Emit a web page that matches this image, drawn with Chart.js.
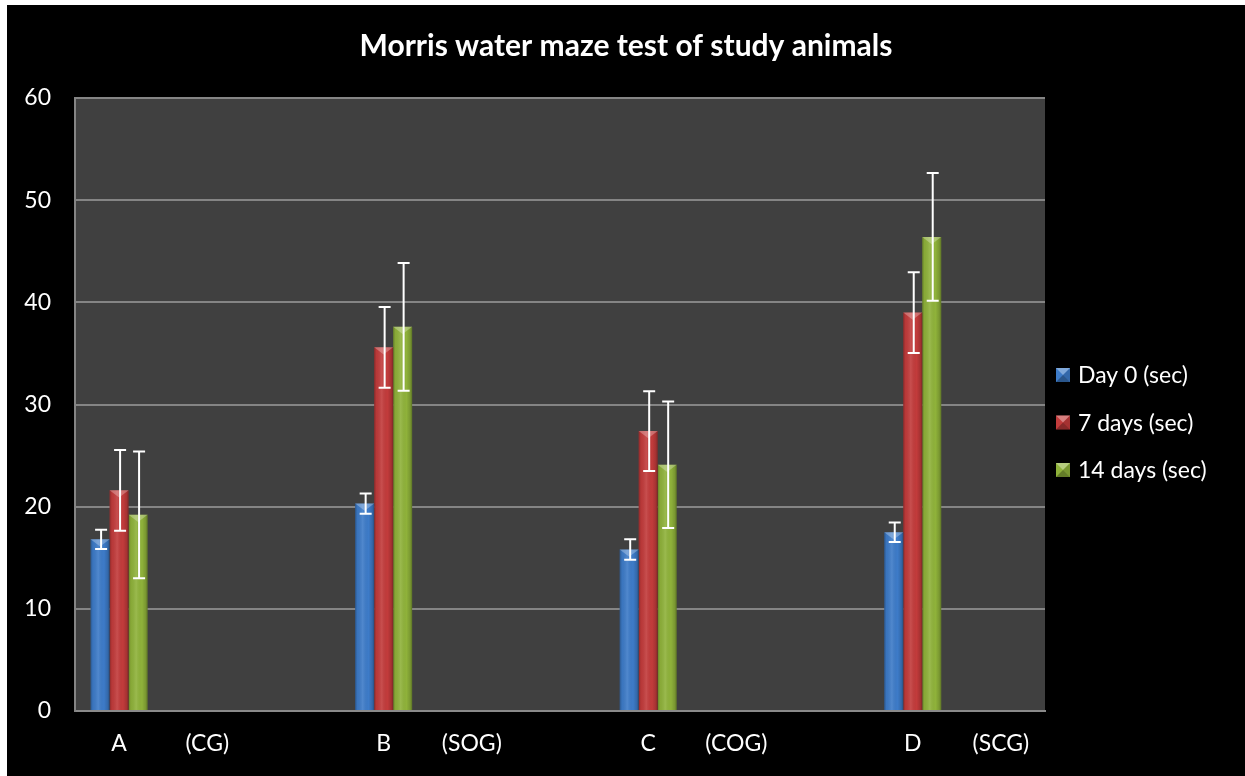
<!DOCTYPE html>
<html>
<head>
<meta charset="utf-8">
<title>Morris water maze test</title>
<script src="https://cdn.jsdelivr.net/npm/chart.js@4.4.1/dist/chart.umd.min.js"></script>
<style>
    html, body { margin: 0; padding: 0; background: #fff; }
    #wrap { position: absolute; left: 7px; top: 5px; width: 1238px; height: 771px; background: #000; }
</style>
</head>
<body>
<div id="wrap"><canvas id="graficoMaze"></canvas></div>
<script>
// gruppi e codici sull'asse x
const groups = ['A', 'B', 'C', 'D'];
const groupCodes = ['(CG)', '(SOG)', '(COG)', '(SCG)'];

// valori (sec) per serie
const day0 = [16.8, 20.3, 15.8, 17.5];
const day7 = [21.6, 35.6, 27.4, 39.0];
const day14 = [19.2, 37.6, 24.1, 46.4];

// errori
const day0Err = [0.95, 1.0, 1.0, 0.95];
const day7Err = [3.95, 3.95, 3.9, 3.95];
const day14Err = [6.2, 6.25, 6.2, 6.25];

const seriesLabels = ['Day 0 (sec)', '7 days (sec)', '14 days (sec)'];
const seriesColors = ['#3d7bc8', '#c23b3b', '#8fb23a'];

const yTicks = [0, 10, 20, 30, 40, 50, 60];

// ogni gruppo occupa 3 slot: lettera, codice, vuoto
const labels = [];
groups.forEach((g, i) => {
    labels.push(g, groupCodes[i]);
    if (i < groups.length - 1) labels.push('');
});

function spread(values) {
    return labels.map((l, k) => (k % 3 === 0 ? values[k / 3] : null));
}

const allErr = [day0Err, day7Err, day14Err];

const plotBg = {
    id: 'plotBg',
    beforeDraw(chart) {
        const { ctx, chartArea: a } = chart;
        ctx.save();
        ctx.fillStyle = '#404040';
        ctx.fillRect(a.left, a.top, a.right - a.left, a.bottom - a.top);
        ctx.restore();
    }
};

// effetto rilievo + barre di errore
const barExtras = {
    id: 'barExtras',
    afterDatasetsDraw(chart) {
        const ctx = chart.ctx;
        const y = chart.scales.y;
        ctx.save();
        chart.data.datasets.forEach((ds, i) => {
            const meta = chart.getDatasetMeta(i);
            meta.data.forEach((el, k) => {
                if (ds.data[k] == null) return;
                const w = el.width;
                const left = el.x - w / 2;
                const top = el.y;
                const bottom = el.base;
                const g = ctx.createLinearGradient(left, 0, left + w, 0);
                g.addColorStop(0, 'rgba(0,0,0,0.28)');
                g.addColorStop(0.12, 'rgba(0,0,0,0.05)');
                g.addColorStop(0.4, 'rgba(255,255,255,0.10)');
                g.addColorStop(0.7, 'rgba(0,0,0,0.0)');
                g.addColorStop(0.9, 'rgba(0,0,0,0.15)');
                g.addColorStop(1, 'rgba(0,0,0,0.35)');
                ctx.fillStyle = g;
                ctx.fillRect(left, top, w, bottom - top);
                ctx.beginPath();
                ctx.moveTo(left, top);
                ctx.lineTo(left + w, top);
                ctx.lineTo(el.x, top + w * 0.38);
                ctx.closePath();
                ctx.fillStyle = 'rgba(255,255,255,0.28)';
                ctx.fill();
            });
        });
        ctx.strokeStyle = '#ffffff';
        ctx.lineWidth = 2;
        chart.data.datasets.forEach((ds, i) => {
            const meta = chart.getDatasetMeta(i);
            meta.data.forEach((el, k) => {
                const v = ds.data[k];
                if (v == null) return;
                const e = allErr[i][k / 3];
                const yt = y.getPixelForValue(v + e);
                const yb = y.getPixelForValue(v - e);
                const x = el.x + 1;
                ctx.beginPath();
                ctx.moveTo(x, yt); ctx.lineTo(x, yb);
                ctx.moveTo(x - 6, yt); ctx.lineTo(x + 6, yt);
                ctx.moveTo(x - 6, yb); ctx.lineTo(x + 6, yb);
                ctx.stroke();
            });
        });
        ctx.restore();
    }
};

const sideLegend = {
    id: 'sideLegend',
    afterDraw(chart) {
        const { ctx, chartArea: a } = chart;
        ctx.save();
        ctx.font = '23px Lato';
        ctx.textBaseline = 'middle';
        chart.data.datasets.forEach((ds, i) => {
            const cy = a.top + 277 + i * 47.5;
            const x0 = a.right + 11;
            const s = 14;
            ctx.fillStyle = ds.backgroundColor;
            ctx.fillRect(x0, cy - s / 2, s, s);
            // faccette
            ctx.fillStyle = 'rgba(255,255,255,0.35)';
            ctx.beginPath();
            ctx.moveTo(x0, cy - s / 2); ctx.lineTo(x0 + s, cy - s / 2); ctx.lineTo(x0 + s / 2, cy);
            ctx.closePath(); ctx.fill();
            ctx.fillStyle = 'rgba(0,0,0,0.3)';
            ctx.beginPath();
            ctx.moveTo(x0, cy + s / 2); ctx.lineTo(x0 + s, cy + s / 2); ctx.lineTo(x0 + s / 2, cy);
            ctx.closePath(); ctx.fill();
            ctx.fillStyle = 'rgba(0,0,0,0.15)';
            ctx.beginPath();
            ctx.moveTo(x0 + s, cy - s / 2); ctx.lineTo(x0 + s, cy + s / 2); ctx.lineTo(x0 + s / 2, cy);
            ctx.closePath(); ctx.fill();
            ctx.fillStyle = '#ffffff';
            ctx.fillText(ds.label, x0 + 22, cy + 1);
        });
        ctx.restore();
    }
};

Chart.defaults.font.family = 'Lato';
Chart.defaults.color = '#ffffff';

const canvas = document.getElementById('graficoMaze');
window.grafico = new Chart(canvas, {
    type: 'bar',
    data: {
        labels: labels,
        datasets: [
            { label: seriesLabels[0], data: spread(day0), backgroundColor: seriesColors[0] },
            { label: seriesLabels[1], data: spread(day7), backgroundColor: seriesColors[1] },
            { label: seriesLabels[2], data: spread(day14), backgroundColor: seriesColors[2] }
        ]
    },
    options: {
        responsive: true,
        maintainAspectRatio: false,
        animation: false,
        categoryPercentage: 0.646,
        barPercentage: 1.0,
        layout: { padding: 0 },
        scales: {
            x: {
                grid: { display: false, drawTicks: false },
                border: { display: true, color: '#8a8a8a', width: 2 },
                ticks: {
                    color: '#ffffff',
                    font: { size: 23 },
                    padding: 19,
                    autoSkip: false,
                    maxRotation: 0
                },
                afterFit(scale) { scale.height = 65; }
            },
            y: {
                min: 0,
                max: 60,
                afterBuildTicks(scale) { scale.ticks = yTicks.map(v => ({ value: v })); },
                grid: { color: '#858585', lineWidth: 2, drawTicks: false },
                border: { display: true, color: '#858585', width: 2 },
                ticks: { color: '#ffffff', font: { size: 23 }, padding: 24 },
                afterFit(scale) { scale.width = 68; }
            },
            spacer: {
                position: 'right',
                display: true,
                grid: { display: false, drawTicks: false },
                border: { display: false },
                ticks: { display: false },
                afterFit(scale) { scale.width = 200; }
            }
        },
        plugins: {
            legend: { display: false },
            tooltip: { enabled: false },
            title: {
                display: true,
                text: 'Morris water maze test of study animals',
                color: '#ffffff',
                font: { size: 30, weight: 'bold' },
                padding: { top: 23, bottom: 34 }
            }
        }
    },
    plugins: [plotBg, barExtras, sideLegend]
});
</script>
</body>
</html>
